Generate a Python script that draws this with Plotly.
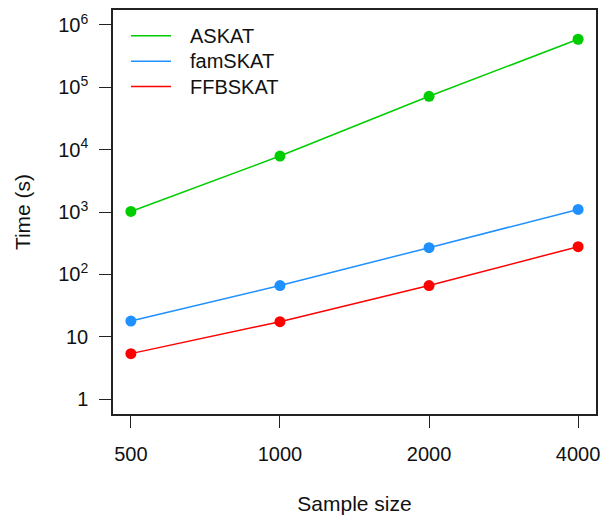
import math
import plotly.graph_objects as go

sample_size = [500, 1000, 2000, 4000]
series_names = ["ASKAT", "famSKAT", "FFBSKAT"]
askat = [1020, 7900, 71800, 590000]
famskat = [17.8, 66, 268, 1100]
ffbskat = [5.35, 17.4, 66, 278]
series_colors = ["#00CD00", "#1E90FF", "#FF0000"]
y_tickvals = [1, 10, 100, 1000, 10000, 100000, 1000000]
y_ticktext = ["1", "10", "10<sup>2</sup>", "10<sup>3</sup>", "10<sup>4</sup>",
              "10<sup>5</sup>", "10<sup>6</sup>"]
x_tickvals = [500, 1000, 2000, 4000]
x_ticktext = ["500", "1000", "2000", "4000"]

FONT = "Liberation Sans, Arial, sans-serif"
# page body has an 8px margin; compensate so the plot lands where the reference has it
OFF = 8
W, H = 609 - OFF, 518 - OFF
ML, MR, MT, MB = 113 - OFF, 13, 8 - OFF, 104

fig = go.Figure()
for name, vals, col in zip(series_names, [askat, famskat, ffbskat], series_colors):
    fig.add_trace(go.Scatter(
        x=sample_size, y=vals, name=name, mode="lines+markers",
        line=dict(color=col, width=1.5),
        marker=dict(color=col, size=11, line=dict(width=0)),
        showlegend=False,
    ))

# R-style 4% axis extension on log scale
lx0, lx1 = math.log10(min(sample_size)), math.log10(max(sample_size))
dx = (lx1 - lx0) * 0.04
ly0, ly1 = 0, 6
dy = (ly1 - ly0) * 0.04

axis_common = dict(
    showline=True, mirror=True, linecolor="#222", linewidth=1.5,
    ticks="outside", ticklen=12, tickwidth=1.3, tickcolor="#222",
    showgrid=False, zeroline=False,
    tickfont=dict(family=FONT, size=20, color="#111"),
)

fig.update_xaxes(
    type="log", range=[lx0 - dx, lx1 + dx],
    tickvals=x_tickvals, ticktext=x_ticktext, ticklabelstandoff=9,
    title=dict(text="Sample size", font=dict(family=FONT, size=21, color="#111"), standoff=33),
    **axis_common,
)
fig.update_yaxes(
    type="log", range=[ly0 - dy, ly1 + dy],
    tickvals=y_tickvals, ticktext=y_ticktext, ticklabelstandoff=7,
    title=dict(text="Time (s)", font=dict(family=FONT, size=21, color="#111"), standoff=22),
    **axis_common,
)

# Manual legend (lines only)
pw = W - ML - MR
ph = H - MT - MB
shapes = []
annotations = []
for i, (name, col) in enumerate(zip(series_names, series_colors)):
    ypix = 34 + i * 25.5 - OFF
    yp = (H - MB - ypix) / ph
    shapes.append(dict(type="line", xref="paper", yref="paper",
                       x0=(131 - OFF - ML) / pw, x1=(171 - OFF - ML) / pw, y0=yp, y1=yp,
                       line=dict(color=col, width=1.5)))
    annotations.append(dict(xref="paper", yref="paper", x=(188 - OFF - ML) / pw, y=yp,
                            text=name, showarrow=False, xanchor="left", yanchor="middle",
                            font=dict(family=FONT, size=20, color="#111")))

fig.update_layout(
    width=W, height=H, autosize=False,
    margin=dict(l=ML, r=MR, t=MT, b=MB, pad=0),
    paper_bgcolor="white", plot_bgcolor="white",
    shapes=shapes, annotations=annotations,
    showlegend=False,
)

fig.write_html("out.html")
